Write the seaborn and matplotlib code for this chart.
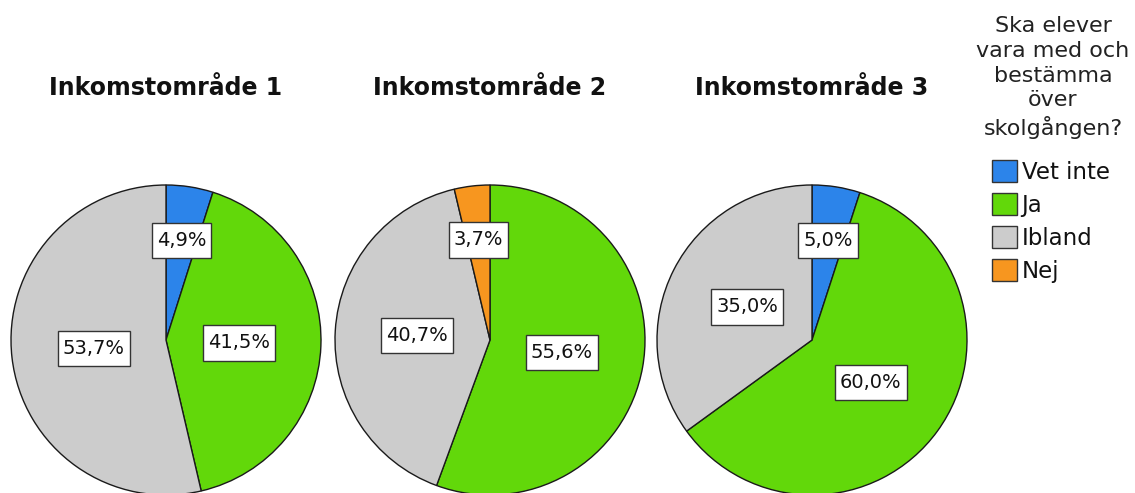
import numpy as np
import pandas as pd
import seaborn as sns
import matplotlib
matplotlib.use("Agg")
import matplotlib.pyplot as plt
from matplotlib.patches import Patch
from matplotlib.path import Path

# ---- data ----
categories = ["Vet inte", "Ja", "Ibland", "Nej"]
areas = ["Inkomstområde 1", "Inkomstområde 2", "Inkomstområde 3"]
area1 = [4.9, 41.5, 53.7, 0.0]
area2 = [0.0, 55.6, 40.7, 3.7]
area3 = [5.0, 60.0, 35.0, 0.0]
legend_title = "Ska elever\nvara med och\nbestämma\növer\nskolgången?"

colors = ["#2c84ea", "#62d80a", "#cccccc", "#f7961f"]

sns.set_theme(style="white")
plt.rcParams["font.family"] = ["DejaVu Sans"]
palette = sns.color_palette(colors)

W, H = 1135, 493
fig = plt.figure(figsize=(W / 100, H / 100), dpi=100)

centers_x = [166, 490, 812]
cy = 340
R = 155


def label_box(x0, y0, width, height, mutation_size):
    """Rectangle with more vertical than horizontal padding."""
    px = 0.26 * mutation_size
    py = 0.42 * mutation_size
    x0, y0 = x0 - px, y0 - py
    x1, y1 = x0 + width + 2 * px, y0 + height + 2 * py
    return Path([(x0, y0), (x1, y0), (x1, y1), (x0, y1), (x0, y0)],
                closed=True)


for name, vals, cx in zip(areas, [area1, area2, area3], centers_x):
    ax = fig.add_axes([(cx - R) / W, (H - cy - R) / H, 2 * R / W, 2 * R / H])
    idx = [i for i, v in enumerate(vals) if v > 0]
    v = [vals[i] for i in idx]
    c = [palette[i] for i in idx]
    wedges, _ = ax.pie(v, colors=c, startangle=90, counterclock=False,
                       wedgeprops=dict(edgecolor="#1a1a1a", linewidth=1.0),
                       radius=1.0)
    for w, val in zip(wedges, v):
        ang = np.deg2rad((w.theta1 + w.theta2) / 2)
        r = 0.65 if val < 10 else 0.47
        ax.text(r * np.cos(ang), r * np.sin(ang),
                f"{val:.1f}%".replace(".", ","),
                ha="center", va="center", fontsize=14, color="#111111",
                bbox=dict(boxstyle=label_box, facecolor="white",
                          edgecolor="#333333", linewidth=1.0))
    ax.set_xlim(-1, 1)
    ax.set_ylim(-1, 1)
    ax.set_aspect("equal")
    ax.axis("off")
    fig.text(cx / W, 1 - 88 / H, name, ha="center", va="center",
             fontsize=17, fontweight="bold", color="#111111")

# legend title
fig.text(1053 / W, 1 - 16 / H, legend_title, ha="center", va="top",
         multialignment="center", fontsize=16, linespacing=1.3,
         color="#222222")

handles = [Patch(facecolor=col, edgecolor="#333333", linewidth=1.0) for col in palette]
leg = fig.legend(handles, categories,
                 loc="upper left", bbox_to_anchor=(992 / W, 1 - 160 / H),
                 frameon=False, fontsize=16.5,
                 handlelength=1.09, handleheight=1.09, handletextpad=0.2,
                 labelspacing=0.41, borderpad=0.0, borderaxespad=0.0)
for t in leg.get_texts():
    t.set_color("#111111")

fig.savefig("out.png", dpi=100, facecolor="white")
